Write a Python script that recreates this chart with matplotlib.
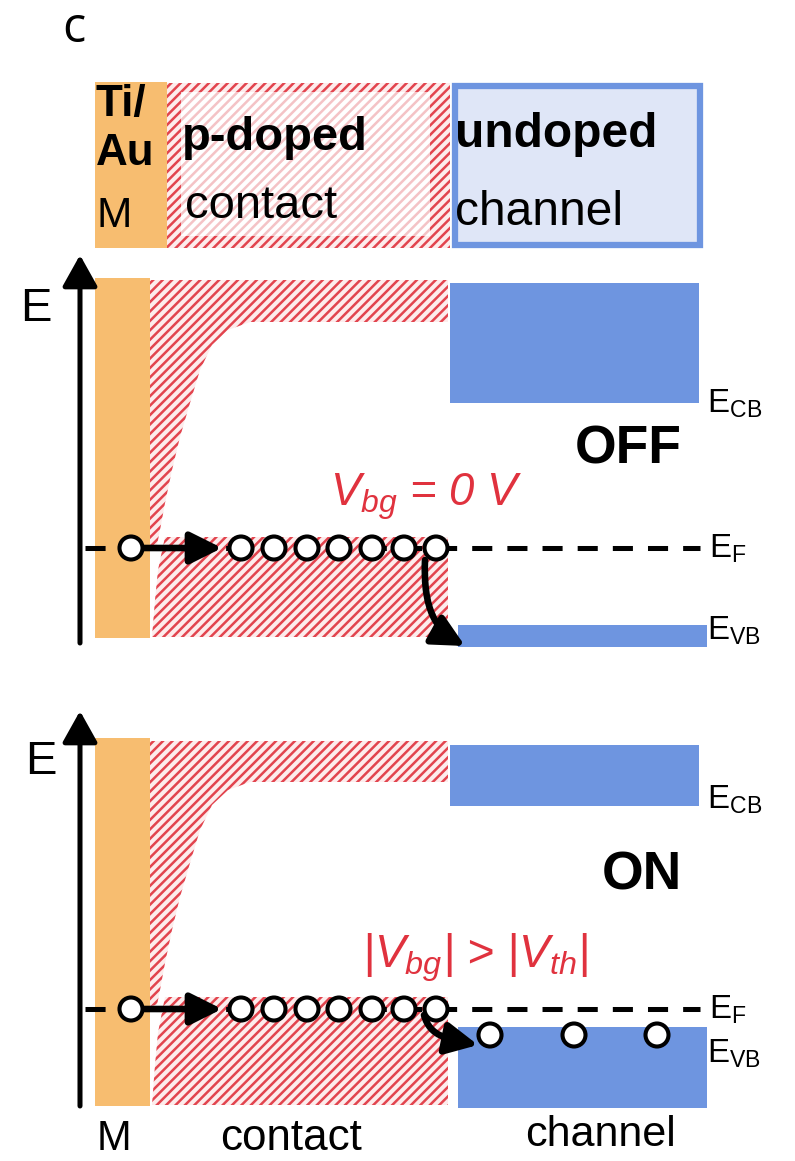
import numpy as np
import matplotlib
matplotlib.use("Agg")
import matplotlib.pyplot as plt
from matplotlib.patches import Rectangle, Polygon, Circle, FancyArrowPatch, PathPatch
from matplotlib.path import Path

plt.rcParams["font.family"] = ["Liberation Sans", "DejaVu Sans"]
plt.rcParams["mathtext.fontset"] = "custom"
plt.rcParams["mathtext.rm"] = "Liberation Sans"
plt.rcParams["mathtext.it"] = "Liberation Sans:italic"
plt.rcParams["mathtext.bf"] = "Liberation Sans:bold"
plt.rcParams["hatch.linewidth"] = 1.6

DPI = 113
W, H = 795, 1161

METAL = "#f7bd70"
RED = "#e2444e"
RED_BG = "#fdecec"
PINK = "#f4c3c6"
BLUE = "#6e95e0"
BLUE_LIGHT = "#dfe6f7"
TEXT_RED = "#e0323e"
HATCH = "////"

# ---- device layout (lateral) ----
metal_x = [95, 150]
contact_x = [150, 448]
channel_cb_x = [450, 699]
channel_vb_x = [458, 707]

# ---- band levels for the two gate states (vertical coordinate, downwards = lower E) ----
states = ["OFF", "ON"]
gate_text = [r"$V_{bg}$ = 0 V", r"|$V_{bg}$| > |$V_{th}$|"]
axis_tip = [249, 705]
axis_bottom = [643, 1106]
metal_top = [278, 738]
metal_bottom = [638, 1106]
contact_cb_top = [280, 741]
contact_cb_edge = [322, 782]
fermi = [548, 1009]
contact_vb_top = [537, 997]
contact_vb_bottom = [637, 1105]
channel_cb = [(283, 403), (745, 806)]
channel_vb = [(625, 647), (1027, 1108)]

# band bending of the contact CB next to the metal: distance from interface, depth below CB edge
bend_dx = [0, 7, 10, 15, 22, 30, 40, 50, 62, 78, 100]
bend_depth = [224, 223, 208, 181, 148, 115, 81, 48, 23, 8, 0]
# left edge of the contact VB: offset from interface vs fraction of band height
vb_edge_dx = [15, 8, 5, 2]
vb_edge_frac = [0.0, 0.33, 0.63, 1.0]

# holes on the Fermi level in the contact, and holes in the channel VB (ON)
contact_holes_x = [131, 241, 274, 307, 339, 372, 404, 436]
channel_holes_x = [[], [490, 574, 657]]
channel_hole_drop = 26

fig = plt.figure(figsize=(W / DPI, H / DPI), dpi=DPI)
ax = fig.add_axes([0, 0, 1, 1])
ax.set_xlim(0, W)
ax.set_ylim(H, 0)
ax.axis("off")

# ---------------- legend strip ----------------
ax.add_patch(Rectangle((95, 82), 72, 166, facecolor=METAL, edgecolor="none"))
# p-doped contact box: light hatch inside a darker hatched frame
ax.add_patch(Rectangle((167, 83), 283, 165, facecolor="white", edgecolor=PINK,
                       hatch=HATCH, linewidth=0))
outer = [(167, 83), (450, 83), (450, 248), (167, 248), (167, 83)]
inner = [(181, 92), (181, 236), (430, 236), (430, 92), (181, 92)]
frame = Path(outer + inner,
             [Path.MOVETO] + [Path.LINETO] * 3 + [Path.CLOSEPOLY]
             + [Path.MOVETO] + [Path.LINETO] * 3 + [Path.CLOSEPOLY])
ax.add_patch(PathPatch(frame, facecolor=RED_BG, edgecolor=RED, hatch=HATCH, linewidth=0))
# undoped channel box
ax.add_patch(Rectangle((455, 86), 245, 159, facecolor=BLUE_LIGHT, edgecolor=BLUE,
                       linewidth=4))

ax.text(62, 42, "c", fontsize=31, family=["Open Sans", "DejaVu Sans"], va="baseline")
ax.text(96, 116, "Ti/", fontsize=28, fontweight="bold", va="baseline")
ax.text(96, 165, "Au", fontsize=28, fontweight="bold", va="baseline")
ax.text(97, 227, "M", fontsize=27, va="baseline")
ax.text(182, 150, "p-doped", fontsize=30, fontweight="bold", va="baseline")
ax.text(185, 218, "contact", fontsize=30, va="baseline")
ax.text(455, 147, "undoped", fontsize=30.5, fontweight="bold", va="baseline")
ax.text(455, 225, "channel", fontsize=30.5, va="baseline")

# ---------------- band diagrams ----------------
label_x = 707
for i, state in enumerate(states):
    # metal
    ax.add_patch(Rectangle((metal_x[0], metal_top[i]), metal_x[1] - metal_x[0],
                           metal_bottom[i] - metal_top[i], facecolor=METAL, edgecolor="none"))
    # contact conduction band with band bending
    x0 = contact_x[0]
    cb = [(x0, contact_cb_top[i]), (contact_x[1], contact_cb_top[i]),
          (contact_x[1], contact_cb_edge[i])]
    cb += [(x0 + dx, contact_cb_edge[i] + d) for dx, d in zip(bend_dx[::-1], bend_depth[::-1])]
    ax.add_patch(Polygon(cb, closed=True, facecolor=RED_BG, edgecolor=RED,
                         hatch=HATCH, linewidth=0))
    # contact valence band
    h_vb = contact_vb_bottom[i] - contact_vb_top[i]
    vb = [(x0 + dx, contact_vb_top[i] + f * h_vb) for dx, f in zip(vb_edge_dx, vb_edge_frac)]
    vb = vb[:1] + [(contact_x[1], contact_vb_top[i]), (contact_x[1], contact_vb_bottom[i])] + vb[::-1][:-1]
    ax.add_patch(Polygon(vb, closed=True, facecolor=RED_BG, edgecolor=RED,
                         hatch=HATCH, linewidth=0))
    # channel bands
    cb_t, cb_b = channel_cb[i]
    ax.add_patch(Rectangle((channel_cb_x[0], cb_t), channel_cb_x[1] - channel_cb_x[0],
                           cb_b - cb_t, facecolor=BLUE, edgecolor="none"))
    vb_t, vb_b = channel_vb[i]
    ax.add_patch(Rectangle((channel_vb_x[0], vb_t), channel_vb_x[1] - channel_vb_x[0],
                           vb_b - vb_t, facecolor=BLUE, edgecolor="none"))

    # Fermi level
    ax.plot([85, 700], [fermi[i], fermi[i]], color="black", lw=3.2,
            linestyle=(0, (4, 3)), solid_capstyle="butt", zorder=3)

    # energy axis
    ax.add_patch(FancyArrowPatch((80, axis_bottom[i]), (80, axis_tip[i] + 6),
                                 arrowstyle="-|>,head_length=17,head_width=9.5",
                                 mutation_scale=1, lw=3.2, color="black",
                                 shrinkA=0, shrinkB=0, zorder=4))
    ax.text(20 + 5 * i, [321, 774][i], "E", fontsize=30, va="baseline")

    # injection from metal into contact
    ax.add_patch(FancyArrowPatch((143, fermi[i]), (222, fermi[i]),
                                 arrowstyle="-|>,head_length=17,head_width=8.5",
                                 mutation_scale=1, lw=4.2, color="black",
                                 shrinkA=0, shrinkB=0, zorder=4))
    # transfer from contact to channel
    yf = fermi[i]
    if i == 0:
        pts = [(425, yf + 12), (423, yf + 62), (436, yf + 82), (465, yf + 98)]
    else:
        pts = [(424, yf + 6), (430, yf + 28), (448, yf + 30), (478, yf + 36)]
    ax.add_patch(FancyArrowPatch(path=Path(pts, [Path.MOVETO, Path.CURVE4, Path.CURVE4, Path.CURVE4]),
                                 arrowstyle="-|>,head_length=17,head_width=8.5",
                                 mutation_scale=1, lw=4.2, color="black", zorder=4))

    # holes
    for hx in contact_holes_x:
        ax.add_patch(Circle((hx, fermi[i]), 11.5, facecolor="white", edgecolor="black",
                            lw=2.6, zorder=5))
    for hx in channel_holes_x[i]:
        ax.add_patch(Circle((hx, fermi[i] + channel_hole_drop), 11.5, facecolor="white",
                            edgecolor="black", lw=2.6, zorder=5))

    # state labels
    ax.text([575, 602][i], [463, 890][i], state, fontsize=34, fontweight="bold", va="baseline")
    ax.text([330, 362][i], [505, 968][i], gate_text[i], fontsize=[29, 29.5][i], style="italic",
            color=TEXT_RED, va="baseline")
    ax.text(label_x, cb_b + [10, 3][i], r"E$_{\rm CB}$", fontsize=21, va="baseline")
    ax.text(label_x + 2, fermi[i] + 10, r"E$_{\rm F}$", fontsize=21, va="baseline")
    ax.text(label_x, [640, 1063][i], r"E$_{\rm VB}$", fontsize=21, va="baseline")

# position labels along the bottom
ax.text(97, 1150, "M", fontsize=26.5, va="baseline")
ax.text(220, 1150, "contact", fontsize=28, va="baseline")
ax.text(525, 1146, "channel", fontsize=27.5, va="baseline")

fig.savefig("out.png", dpi=DPI)
